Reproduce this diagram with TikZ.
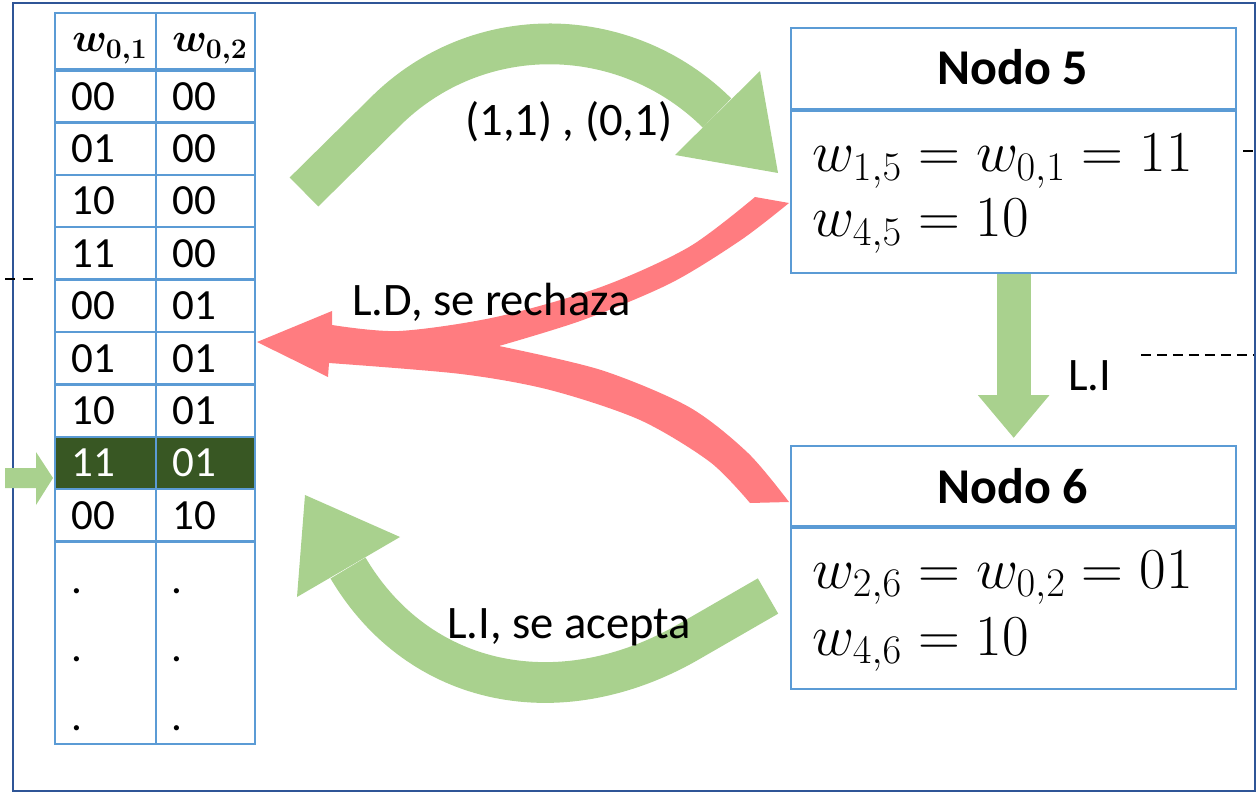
\RequirePackage{fix-cm}
\documentclass[tikz,border=0pt]{standalone}
\usepackage{amsmath}
\usepackage{bm}
\usepackage[no-math]{fontspec}
\setmainfont{Carlito}
\usetikzlibrary{arrows.meta}
\definecolor{lgreen}{HTML}{A9D18E}
\definecolor{lred}{HTML}{FF7C80}
\definecolor{dgreen}{HTML}{385723}
\definecolor{tblue}{HTML}{5B9BD5}
\definecolor{fblue}{HTML}{2F5597}
\begin{document}
\begin{tikzpicture}[x=0.02cm,y=-0.02cm,
  tline/.style={draw=tblue, line width=1.3pt},
  celltxt/.style={anchor=west, inner sep=0pt, font=\fontsize{24.5}{28}\selectfont},
  dottxt/.style={anchor=base west, inner sep=0pt, font=\fontsize{24.5}{28}\selectfont},
  hdr/.style={anchor=base west, inner sep=0pt, font=\fontsize{23}{27}\selectfont},
  lbl/.style={anchor=base west, inner sep=0pt, font=\fontsize{26.5}{31}\selectfont},
  boxframe/.style={draw=tblue, line width=1.4pt, anchor=north west, minimum width=8.9cm, inner sep=0pt},
  boxtitle/.style={anchor=base, inner sep=0pt, font=\bfseries\fontsize{28.5}{34}\selectfont},
  mathline/.style={anchor=base west, inner sep=0pt, font=\fontsize{33}{38}\selectfont},
  bigarrow/.style={draw=lgreen, line width=23.2pt},
  tick/.style={draw=black, line width=0.9pt}]
\useasboundingbox (0,0) rectangle (1256,793);
% outer frame
\draw[fblue, line width=1.5pt] (13,3) rectangle (1255,791);
% table
\fill[dgreen] (55,436.8) rectangle (255,489.2);
\foreach \i in {1,...,9} \draw[tline] (55,{70+52.4*\i}) -- (255,{70+52.4*\i});
\draw[tline] (156,13) -- (156,744);
\draw[tline] (55,13) rectangle (255,744);
\draw[tline, line width=2.4pt] (55,70) -- (255,70);
\node[hdr] (h1) at (72,52) {$\bm{w_{0,1}}$};
\node[hdr] (h2) at (172,52) {$\bm{w_{0,2}}$};
\foreach \a/\b/\c [count=\i from 0] in {00/00/black,01/00/black,10/00/black,11/00/black,00/01/black,01/01/black,10/01/black,11/01/white,00/10/black}{
  \node[celltxt, text=\c] (ca\i) at (71,{96.2+52.4*\i}) {\a};
  \node[celltxt, text=\c] (cb\i) at (172,{96.2+52.4*\i}) {\b};
}
\foreach \y [count=\j] in {593,661,730}{
  \node[dottxt] (da\j) at (71,\y) {.};
  \node[dottxt] (db\j) at (171,\y) {.};
}
% small pointer arrow
\fill[lgreen] (5,468) -- (36,468) -- (36,452) -- (53,478) -- (36,505) -- (36,488) -- (5,488) -- cycle;
% dashes
\draw[tick] (5,279) -- (15,279);
\draw[tick] (23,279) -- (33,279);
\draw[tick] (1243,151) -- (1253,151);
\draw[tick, dash pattern=on 5.7pt off 3.4pt] (1141,355) -- (1253,355);
% Nodo 5
\node[boxframe, minimum height=4.9cm] (n5) at (790,27) {};
\draw[tblue, line width=2.4pt] (790,110) -- (1235,110);
\node[boxtitle] (t5) at (1012.5,85) {Nodo 5};
\node[mathline] (m51) at (812,172) {$w_{1,5}=w_{0,1}=11$};
\node[mathline] (m52) at (812,237) {$w_{4,5}=10$};
% Nodo 6
\node[boxframe, minimum height=4.86cm] (n6) at (790,445) {};
\draw[tblue, line width=2.4pt] (790,527) -- (1235,527);
\node[boxtitle] (t6) at (1012.5,503) {Nodo 6};
\node[mathline] (m61) at (812,588) {$w_{2,6}=w_{0,2}=01$};
\node[mathline] (m62) at (812,655) {$w_{4,6}=10$};
% vertical arrow
\draw[lgreen, line width=19.3pt, -{Triangle[length=24.4pt,width=39.1pt]}, shorten >=0.14cm] (n5.south) -- (n6.north);
% top curved arrow
\draw[bigarrow] (304,192) -- (385,112) .. controls (477,20) and (625,22) .. (717,113);
\fill[lgreen] (760,71) -- (778,173) -- (675,155) -- cycle;
% bottom curved arrow
\draw[bigarrow] (768,596) -- (690,641) .. controls (561,716) and (419,688) .. (348,568);
\fill[lgreen] (400,537) -- (305,495) -- (297,597) -- cycle;
% red merged arrow
\fill[lred] (257,342) -- (332,311)
  -- plot[smooth] coordinates {(332,325) (399,331) (496,317) (601,287) (689,247) (755,197)}
  -- plot[smooth] coordinates {(789,203) (741,240) (671,283) (583,320) (499,346)}
  -- plot[smooth] coordinates {(499,346) (601,370) (689,407) (748,453) (789,502)}
  -- plot[smooth] coordinates {(750,503) (710,462) (640,420) (550,390) (461,374) (329,363)}
  -- (328,377) -- cycle;
% labels
\node[lbl] (l1) at (465,136) {(1,1) , (0,1)};
\node[lbl] (l2) at (352,316) {L.D, se rechaza};
\node[lbl] (l3) at (447,638) {L.I, se acepta};
\node[lbl] (l4) at (1068,390) {L.I};
\end{tikzpicture}
\end{document}
